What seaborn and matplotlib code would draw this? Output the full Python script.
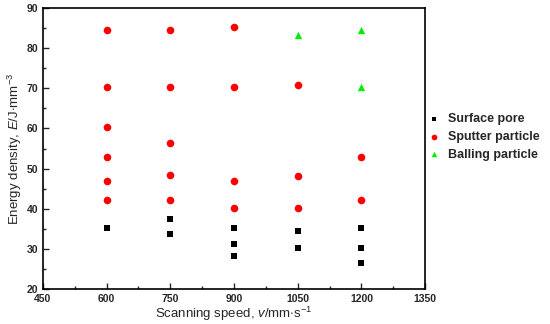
import numpy as np
import pandas as pd
import matplotlib
matplotlib.use("Agg")
import matplotlib.pyplot as plt
import seaborn as sns
from matplotlib.ticker import MultipleLocator

# values
pore_speed = [600, 750, 750, 900, 900, 900, 1050, 1050, 1200, 1200, 1200]
pore_energy = [35.2, 37.5, 33.8, 35.2, 31.3, 28.2, 34.4, 30.1, 35.1, 30.1, 26.4]

sputter_speed = [600, 600, 600, 600, 600, 600, 750, 750, 750, 750, 750,
                 900, 900, 900, 900, 1050, 1050, 1050, 1200, 1200]
sputter_energy = [84.5, 70.4, 60.3, 52.8, 47.0, 42.2, 84.5, 70.4, 56.3, 48.3, 42.2,
                  85.3, 70.4, 47.0, 40.2, 70.8, 48.2, 40.2, 52.8, 42.2]

balling_speed = [1050, 1200, 1200]
balling_energy = [83.3, 84.5, 70.4]

labels = ["Surface pore", "Sputter particle", "Balling particle"]

sns.set_style("ticks")
plt.rcParams["font.family"] = ["Liberation Sans", "DejaVu Sans"]
plt.rcParams["mathtext.fontset"] = "custom"
plt.rcParams["mathtext.rm"] = "Liberation Sans"
plt.rcParams["mathtext.it"] = "Liberation Sans:italic"

fig = plt.figure(figsize=(5.5, 3.24), dpi=100)
ax = fig.add_axes([0.078, 0.108, 0.695, 0.867])

sns.scatterplot(x=pore_speed, y=pore_energy, color="black", marker="s",
                s=20, linewidth=0, label=labels[0], ax=ax)
sns.scatterplot(x=sputter_speed, y=sputter_energy, color="#ff0000", marker="o",
                s=30, linewidth=0, label=labels[1], ax=ax)
sns.scatterplot(x=balling_speed, y=balling_energy, color="#00ee00", marker="^",
                s=28, linewidth=0, label=labels[2], ax=ax)

ax.set_xlim(450, 1350)
ax.set_ylim(20, 90)
ax.xaxis.set_major_locator(MultipleLocator(150))
ax.xaxis.set_minor_locator(MultipleLocator(75))
ax.yaxis.set_major_locator(MultipleLocator(10))
ax.yaxis.set_minor_locator(MultipleLocator(5))
ax.tick_params(which="both", direction="in", top=False, right=False, width=1)
ax.tick_params(which="major", length=4, labelsize=7.5)
ax.tick_params(which="minor", length=2.5)
for lab in ax.get_xticklabels() + ax.get_yticklabels():
    lab.set_fontweight("bold")
for sp in ax.spines.values():
    sp.set_visible(True)
    sp.set_linewidth(1.2)
    sp.set_color("black")

ax.set_xlabel(r"Scanning speed, $\it{v}$/mm$\cdot$s$^{-1}$", fontsize=9.5, labelpad=1)
ax.set_ylabel(r"Energy density, $\it{E}$/J$\cdot$mm$^{-3}$", fontsize=9.5, labelpad=2)

leg = ax.legend(loc="upper left", bbox_to_anchor=(1.008, 0.625), frameon=False,
                prop={"weight": "bold", "size": 9}, handlelength=1.0,
                handletextpad=0.6, labelspacing=0.45, borderaxespad=0,
                borderpad=0, markerscale=0.75)

fig.savefig("out.png", dpi=100)
